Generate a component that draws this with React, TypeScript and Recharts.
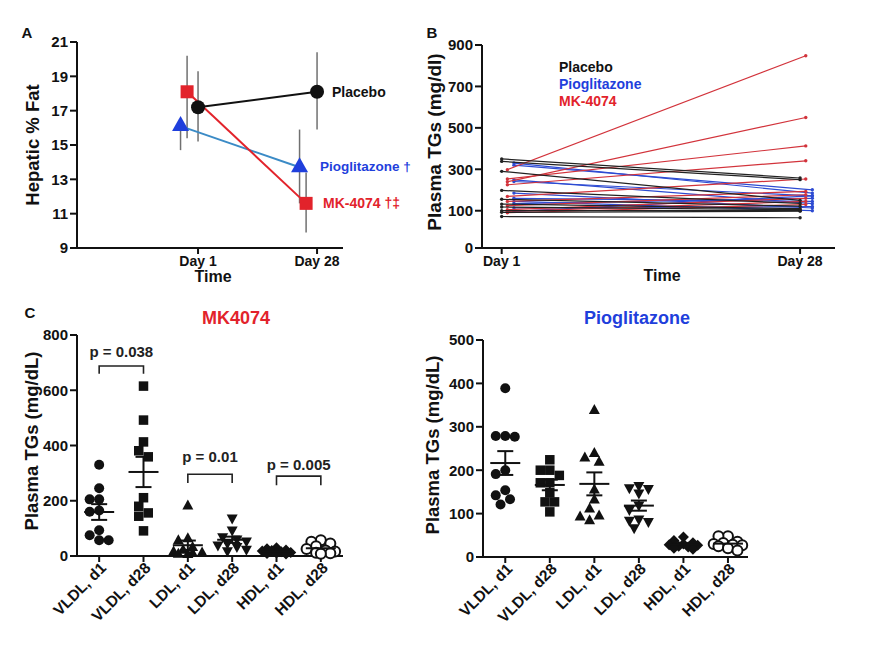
import React from "react";
import { ScatterChart, Scatter, XAxis, YAxis, ErrorBar } from "recharts";

const FONT = "'Liberation Sans', Arial, Helvetica, sans-serif";
const INK = "#111111";
const RED = "#e2232b";
const BLUE = "#1f3fdc";
const TEAL = "#3b8bc6";
const GRAY = "#707070";
const LINE_RED = "#d2333b";
const LINE_BLUE = "#2d4bd2";
const LINE_BLACK = "#222222";

// ---- Panel A: hepatic % fat (mean with error range) ----
const days = ["Day 1", "Day 28"];
const fatTicks = [9, 11, 13, 15, 17, 19, 21];
const placeboFat = [17.2, 18.1];
const placeboFatLow = [15.2, 15.9];
const placeboFatHigh = [19.3, 20.4];
const mkFat = [18.1, 11.6];
const mkFatLow = [15.4, 9.9];
const mkFatHigh = [20.2, 13.4];
const pioFat = [16.1, 13.7];
const pioFatLow = [14.7, 11.6];
const pioFatHigh = [16.4, 15.9];

// ---- Panel B: plasma TGs per patient, day 1 -> day 28 ----
const tgTicks = [-80, 100, 300, 500, 700, 900];
const placeboDay1 = [350, 338, 290, 198, 155, 132, 118, 100, 92, 72];
const placeboDay28 = [258, 250, 150, 135, 122, 110, 105, 100, 98, 66];
const pioDay1 = [330, 320, 249, 241, 185, 160, 145, 134, 113, 97];
const pioDay28 = [185, 201, 134, 172, 113, 145, 100, 160, 120, 172];
const mkDay1 = [298, 240, 253, 225, 169, 145, 124, 105, 97, 90];
const mkDay28 = [848, 550, 413, 341, 253, 193, 177, 160, 145, 130];

// ---- Panel C: lipoprotein TGs ----
const lipoCats = ["VLDL, d1", "VLDL, d28", "LDL, d1", "LDL, d28", "HDL, d1", "HDL, d28"];
const mkVldlD1 = [330, 245, 205, 205, 165, 160, 93, 75, 57, 57];
const mkVldlD28 = [615, 492, 413, 381, 359, 211, 180, 156, 144, 91];
const mkLdlD1 = [180, 62, 55, 30, 20, 14, 10, 8, 6, 5];
const mkLdlD28 = [138, 95, 70, 62, 55, 48, 40, 35, 25, 20];
const mkHdlD1 = [30, 26, 22, 20, 18, 15, 13, 11, 9, 7];
const mkHdlD28 = [57, 52, 45, 35, 25, 20, 16, 12, 10, 8];
const pioVldlD1 = [389, 279, 277, 279, 200, 191, 154, 142, 133, 121];
const pioVldlD28 = [224, 200, 200, 188, 171, 171, 148, 127, 127, 104];
const pioLdlD1 = [337, 238, 228, 218, 154, 131, 110, 94, 92, 83];
const pioLdlD28 = [165, 160, 158, 148, 120, 110, 88, 85, 82, 68];
const pioHdlD1 = [46, 38, 33, 30, 28, 27, 25, 23, 20, 18];
const pioHdlD28 = [48, 48, 35, 32, 30, 28, 27, 25, 20, 15];
const mkTicks = [0, 200, 400, 600, 800];
const pioTicks = [0, 100, 200, 300, 400, 500];
const mkBrackets = [
  { from: 0, to: 1, top: 688, leg: 660, textY: 741, text: "p = 0.038" },
  { from: 2, to: 3, top: 296, leg: 264, textY: 361, text: "p = 0.01" },
  { from: 4, to: 5, top: 289, leg: 256, textY: 333, text: "p = 0.005" },
];

const axisStyle = { stroke: INK, strokeWidth: 2 };
const tickFont = { fontFamily: FONT, fontWeight: 700, fontSize: 15, fill: INK };

// ---- marker shapes ----
const dot = (fill: string, r: number, stroke?: string) => (p: any) => (
  <circle cx={p.cx} cy={p.cy} r={r} fill={fill} stroke={stroke ?? "none"} strokeWidth={stroke ? 2 : 0} />
);
const square = (fill: string, s: number) => (p: any) => (
  <rect x={p.cx - s / 2} y={p.cy - s / 2} width={s} height={s} fill={fill} />
);
const triangle = (fill: string, w: number, h: number, down = false) => (p: any) => {
  const d = down ? -1 : 1;
  const apex = p.cy - (d * 2 * h) / 3;
  const base = p.cy + (d * h) / 3;
  return <polygon points={`${p.cx},${apex} ${p.cx - w / 2},${base} ${p.cx + w / 2},${base}`} fill={fill} />;
};
const diamond = (fill: string, s: number) => (p: any) => (
  <polygon points={`${p.cx},${p.cy - s} ${p.cx + s},${p.cy} ${p.cx},${p.cy + s} ${p.cx - s},${p.cy}`} fill={fill} />
);
const nothing = () => <g />;

const fatRows = (mean: number[], low: number[], high: number[], shift: number) =>
  mean.map((m, i) => ({ x: i + shift, y: m, err: [m - low[i], high[i] - m] }));

const patientLines = (d1: number[], d28: number[], shift: number) =>
  d1.map((v, i) => [
    { x: shift, y: v },
    { x: 1 + shift, y: d28[i] },
  ]);

// beeswarm-style horizontal spread (pixels) so dots don't sit on top of each other
function swarm(values: number[], pxPerUnit: number, diam: number, maxOff: number) {
  const order = values.map((_, i) => i).sort((a, b) => values[b] - values[a]);
  const step = diam / 2;
  const cands = [0];
  for (let k = 1; k * step <= maxOff; k++) cands.push(-k * step, k * step);
  const placed: { dx: number; py: number }[] = [];
  const out = new Array(values.length).fill(0);
  for (const i of order) {
    const py = values[i] * pxPerUnit;
    let best = 0;
    let bestD = -1;
    for (const c of cands) {
      let md = Infinity;
      for (const q of placed) md = Math.min(md, Math.hypot(q.dx - c, q.py - py));
      if (md >= diam) {
        best = c;
        break;
      }
      if (md > bestD) {
        bestD = md;
        best = c;
      }
    }
    placed.push({ dx: best, py });
    out[i] = best;
  }
  return out;
}

const mean = (a: number[]) => a.reduce((s, v) => s + v, 0) / a.length;
const sem = (a: number[]) => {
  const m = mean(a);
  const sd = Math.sqrt(a.reduce((s, v) => s + (v - m) ** 2, 0) / (a.length - 1));
  return sd / Math.sqrt(a.length);
};

function Note({ x, y, text, size = 14, color = INK, align = "center", rotate = false }: any) {
  const tx = align === "center" ? "-50%" : "0";
  return (
    <div
      style={{
        position: "absolute",
        left: x,
        top: y,
        transform: `translate(${tx}, -50%)${rotate ? " rotate(-90deg)" : ""}`,
        fontFamily: FONT,
        fontWeight: 700,
        fontSize: size,
        color,
        whiteSpace: "nowrap",
        lineHeight: 1,
      }}
    >
      {text}
    </div>
  );
}

function PanelA() {
  return (
    <ScatterChart width={420} height={290} margin={{ top: 42, right: 77, bottom: 12, left: 37 }}>
      <XAxis
        type="number"
        dataKey="x"
        domain={[-1.017, 1.218]}
        ticks={[0, 1]}
        tickFormatter={(v) => days[v]}
        axisLine={axisStyle}
        tickLine={axisStyle}
        tick={{ ...tickFont, fontSize: 14 }}
        tickSize={6}
        height={30}
      />
      <YAxis
        type="number"
        dataKey="y"
        domain={[9, 21]}
        ticks={fatTicks}
        width={40}
        axisLine={axisStyle}
        tickLine={axisStyle}
        tick={tickFont}
        tickSize={7}
      />
      <Scatter
        data={fatRows(pioFat, pioFatLow, pioFatHigh, -0.147)}
        fill={BLUE}
        line={{ stroke: TEAL, strokeWidth: 2 }}
        lineType="joint"
        shape={triangle(BLUE, 17, 15)}
        isAnimationActive={false}
      >
        <ErrorBar dataKey="err" direction="y" width={0} stroke={GRAY} strokeWidth={1.5} />
      </Scatter>
      <Scatter
        data={fatRows(mkFat, mkFatLow, mkFatHigh, -0.092)}
        fill={RED}
        line={{ stroke: RED, strokeWidth: 2 }}
        lineType="joint"
        shape={square(RED, 13)}
        isAnimationActive={false}
      >
        <ErrorBar dataKey="err" direction="y" width={0} stroke={GRAY} strokeWidth={1.5} />
      </Scatter>
      <Scatter
        data={fatRows(placeboFat, placeboFatLow, placeboFatHigh, 0)}
        fill={INK}
        line={{ stroke: INK, strokeWidth: 2 }}
        lineType="joint"
        shape={dot(INK, 7)}
        isAnimationActive={false}
      >
        <ErrorBar dataKey="err" direction="y" width={0} stroke={GRAY} strokeWidth={1.5} />
      </Scatter>
    </ScatterChart>
  );
}

function PanelB() {
  const groups = [
    { lines: patientLines(pioDay1, pioDay28, 0.041), color: LINE_BLUE },
    { lines: patientLines(mkDay1, mkDay28, 0.019), color: LINE_RED },
    { lines: patientLines(placeboDay1, placeboDay28, 0), color: LINE_BLACK },
  ];
  return (
    <ScatterChart width={461} height={290} margin={{ top: 45, right: 46, bottom: 12, left: 17 }}>
      <XAxis
        type="number"
        dataKey="x"
        domain={[-0.066, 1.117]}
        ticks={[0, 1]}
        tickFormatter={(v) => days[v]}
        axisLine={axisStyle}
        tickLine={axisStyle}
        tick={{ ...tickFont, fontSize: 14 }}
        tickSize={6}
        height={30}
      />
      <YAxis
        type="number"
        dataKey="y"
        domain={[-80, 900]}
        ticks={tgTicks}
        tickFormatter={(v) => (v < 0 ? "0" : String(v))}
        width={45}
        axisLine={axisStyle}
        tickLine={axisStyle}
        tick={tickFont}
        tickSize={7}
      />
      {groups.flatMap((g, gi) =>
        g.lines.map((pts, i) => (
          <Scatter
            key={`${gi}-${i}`}
            data={pts}
            fill={g.color}
            line={{ stroke: g.color, strokeWidth: 1.2 }}
            lineType="joint"
            shape={dot(g.color, 1.7)}
            isAnimationActive={false}
          />
        ))
      )}
    </ScatterChart>
  );
}

function CatTick(props: any) {
  const { x, y, payload } = props;
  const ax = x + 8;
  const ay = y + 5;
  return (
    <text
      x={ax}
      y={ay}
      transform={`rotate(-45 ${ax} ${ay})`}
      textAnchor="end"
      fontFamily={FONT}
      fontWeight={700}
      fontSize={15.5}
      fill={INK}
    >
      {lipoCats[payload.value]}
    </text>
  );
}

const catShapes = [
  dot(INK, 5),
  square(INK, 9.5),
  triangle(INK, 11, 10),
  triangle(INK, 11, 10, true),
  diamond(INK, 5.5),
  dot("#ffffff", 5, INK),
];

function LipoPanel({ groups, yMax, ticks, pxPerUnit, pxPerCat, xMax, width, margin, yWidth, brackets }: any) {
  const means = groups.map((g: number[], i: number) => ({ x: i, y: mean(g), sem: sem(g) }));
  return (
    <ScatterChart width={width} height={357} margin={margin}>
      <XAxis
        type="number"
        dataKey="x"
        domain={[-0.5, xMax]}
        ticks={[0, 1, 2, 3, 4, 5]}
        axisLine={axisStyle}
        tickLine={axisStyle}
        tick={<CatTick />}
        tickSize={6}
        height={80}
      />
      <YAxis
        type="number"
        dataKey="y"
        domain={[0, yMax]}
        ticks={ticks}
        width={yWidth}
        axisLine={axisStyle}
        tickLine={axisStyle}
        tick={tickFont}
        tickSize={7}
      />
      {groups.map((g: number[], i: number) => {
        const offs = swarm(g, pxPerUnit, 9.5, 16);
        const rows = g.map((v, j) => ({ x: i + offs[j] / pxPerCat, y: v }));
        return <Scatter key={i} data={rows} fill={INK} shape={catShapes[i]} isAnimationActive={false} />;
      })}
      <Scatter
        data={means}
        fill={INK}
        shape={(p: any) => <line x1={p.cx - 15} x2={p.cx + 15} y1={p.cy} y2={p.cy} stroke={INK} strokeWidth={2} />}
        isAnimationActive={false}
      >
        <ErrorBar dataKey="sem" direction="y" width={8} stroke={INK} strokeWidth={2} />
      </Scatter>
      {(brackets || []).map((b: any, i: number) => (
        <Scatter
          key={`br${i}`}
          data={[
            { x: b.from, y: b.leg },
            { x: b.from, y: b.top },
            { x: b.to, y: b.top },
            { x: b.to, y: b.leg },
          ]}
          fill={INK}
          line={{ stroke: "#222", strokeWidth: 1.6 }}
          lineType="joint"
          shape={nothing}
          isAnimationActive={false}
        />
      ))}
      {(brackets || []).map((b: any, i: number) => (
        <Scatter
          key={`bt${i}`}
          data={[{ x: (b.from + b.to) / 2, y: b.textY }]}
          fill={INK}
          shape={(p: any) => (
            <text
              x={p.cx}
              y={p.cy}
              textAnchor="middle"
              dominantBaseline="central"
              fontFamily={FONT}
              fontWeight={700}
              fontSize={15}
              fill="#222"
            >
              {b.text}
            </text>
          )}
          isAnimationActive={false}
        />
      ))}
    </ScatterChart>
  );
}

export default function App() {
  const mkGroups = [mkVldlD1, mkVldlD28, mkLdlD1, mkLdlD28, mkHdlD1, mkHdlD28];
  const pioGroups = [pioVldlD1, pioVldlD28, pioLdlD1, pioLdlD28, pioHdlD1, pioHdlD28];
  return (
    <div style={{ position: "absolute", left: 0, top: 0, width: 881, height: 647, background: "#fff", overflow: "hidden" }}>
      <div style={{ position: "absolute", left: 0, top: 0 }}>
        <PanelA />
      </div>
      <div style={{ position: "absolute", left: 420, top: 0 }}>
        <PanelB />
      </div>
      <div style={{ position: "absolute", left: 0, top: 290 }}>
        <LipoPanel
          groups={mkGroups}
          yMax={800}
          ticks={mkTicks}
          pxPerUnit={220.7 / 800}
          pxPerCat={44.33}
          xMax={5.5}
          width={440}
          margin={{ top: 45, right: 97, bottom: 11, left: 32 }}
          yWidth={45}
          brackets={mkBrackets}
        />
      </div>
      <div style={{ position: "absolute", left: 440, top: 290 }}>
        <LipoPanel
          groups={pioGroups}
          yMax={500}
          ticks={pioTicks}
          pxPerUnit={216.7 / 500}
          pxPerCat={44.5}
          xMax={5.45}
          width={441}
          margin={{ top: 50, right: 133, bottom: 10, left: 3 }}
          yWidth={40}
        />
      </div>

      <Note x={27} y={32} text="A" size={15} />
      <Note x={432} y={32} text="B" size={15} />
      <Note x={30} y={312} text="C" size={15} />

      <Note x={33} y={145} text="Hepatic % Fat" size={18.5} rotate />
      <Note x={213} y={277} text="Time" size={16} />
      <Note x={332} y={92} text="Placebo" size={14} align="left" />
      <Note x={320} y={167} text="Pioglitazone †" size={13.5} color={BLUE} align="left" />
      <Note x={323} y={203} text="MK-4074 †‡" size={14} color={RED} align="left" />

      <Note x={434} y={142} text="Plasma TGs (mg/dl)" size={19} rotate />
      <Note x={662} y={276} text="Time" size={16} />
      <Note x={559} y={67} text="Placebo" size={14} align="left" />
      <Note x={559} y={84} text="Pioglitazone" size={14} color={BLUE} align="left" />
      <Note x={559} y={101} text="MK-4074" size={14} color={RED} align="left" />

      <Note x={236} y={318} text="MK4074" size={18} color={RED} />
      <Note x={32} y={441} text="Plasma TGs (mg/dL)" size={18.5} rotate />
      <Note x={637} y={318} text="Pioglitazone" size={18} color={BLUE} />
      <Note x={433} y={445} text="Plasma TGs (mg/dL)" size={18.5} rotate />
    </div>
  );
}
